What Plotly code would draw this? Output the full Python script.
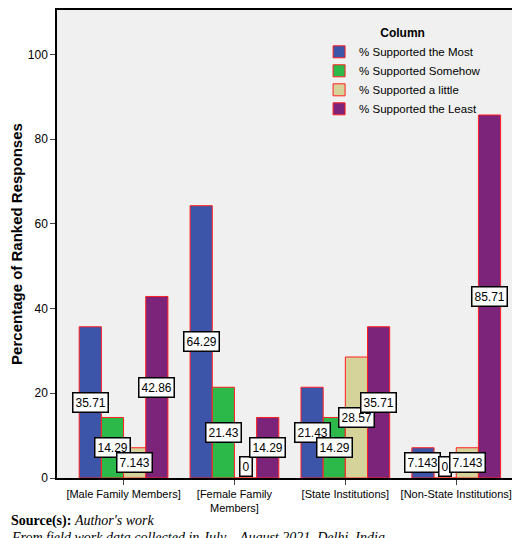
import plotly.graph_objects as go

categories = ["[Male Family Members]", "[Female Family<br>Members]", "[State Institutions]", "[Non-State Institutions]"]
series_names = ["% Supported the Most", "% Supported Somehow", "% Supported a little", "% Supported the Least"]
most = [35.71, 64.29, 21.43, 7.143]
somehow = [14.29, 21.43, 14.29, 0]
little = [7.143, 0, 28.57, 7.143]
least = [42.86, 14.29, 35.71, 85.71]
label_text = [["35.71", "64.29", "21.43", "7.143"], ["14.29", "21.43", "14.29", "0"],
              ["7.143", "0", "28.57", "7.143"], ["42.86", "14.29", "35.71", "85.71"]]
colors = ["#3d55a8", "#2db84a", "#d6d39a", "#7b2479"]

series = [most, somehow, little, least]
fig = go.Figure()
xs = list(range(len(categories)))
w = 0.2
for j, (name, vals, col) in enumerate(zip(series_names, series, colors)):
    fig.add_trace(go.Bar(x=xs, y=vals, name=name, marker=dict(color=col, line=dict(color="#ff2020", width=1))))
    for i, v in enumerate(vals):
        fig.add_annotation(x=i + (j - 1.5) * w, y=max(v / 2, 2.8), text=label_text[j][i], showarrow=False,
                           bgcolor="white", bordercolor="black", borderwidth=1.5, borderpad=2,
                           font=dict(family="Arial", size=12, color="black"))

fig.add_annotation(xref="paper", yref="paper", x=-0.102, y=-0.092, xanchor="left", yanchor="middle", showarrow=False,
                   text="<b>Source(s):</b> <i>Author's work</i>", font=dict(family="Liberation Serif", size=14, color="black"))
fig.add_annotation(xref="paper", yref="paper", x=-0.102, y=-0.128, xanchor="left", yanchor="middle", showarrow=False,
                   text="<i>From field work data collected in July – August 2021, Delhi, India</i>",
                   font=dict(family="Liberation Serif", size=14, color="black"))

fig.update_layout(
    width=520, height=538, barmode="group", bargap=0.2, bargroupgap=0,
    margin=dict(l=49, r=3, t=2, b=68),
    paper_bgcolor="white", plot_bgcolor="#f0f0f0",
    font=dict(family="Arial", size=12, color="black"),
    legend=dict(x=0.56, y=0.975, xanchor="left", yanchor="top", bgcolor="rgba(0,0,0,0)",
                title=dict(text="<b>Column</b>", side="top center", font=dict(size=12)),
                font=dict(size=11.5), tracegroupgap=0, itemwidth=30),
    showlegend=True,
)
fig.update_xaxes(tickvals=xs, ticktext=categories, range=[-0.6, 3.62], showline=True, linecolor="black", linewidth=1.5,
                 mirror=True, ticks="outside", ticklen=5, tickfont=dict(size=11), showgrid=False, automargin=False)
fig.update_yaxes(range=[0, 110.5], tickvals=[0, 20, 40, 60, 80, 100], showline=True, linecolor="black", linewidth=1.5,
                 mirror=True, ticks="outside", ticklen=5, showgrid=False, zeroline=False, automargin=False,
                 title=dict(text="<b>Percentage of Ranked Responses</b>", font=dict(size=15), standoff=6))
fig.write_html("out.html")
